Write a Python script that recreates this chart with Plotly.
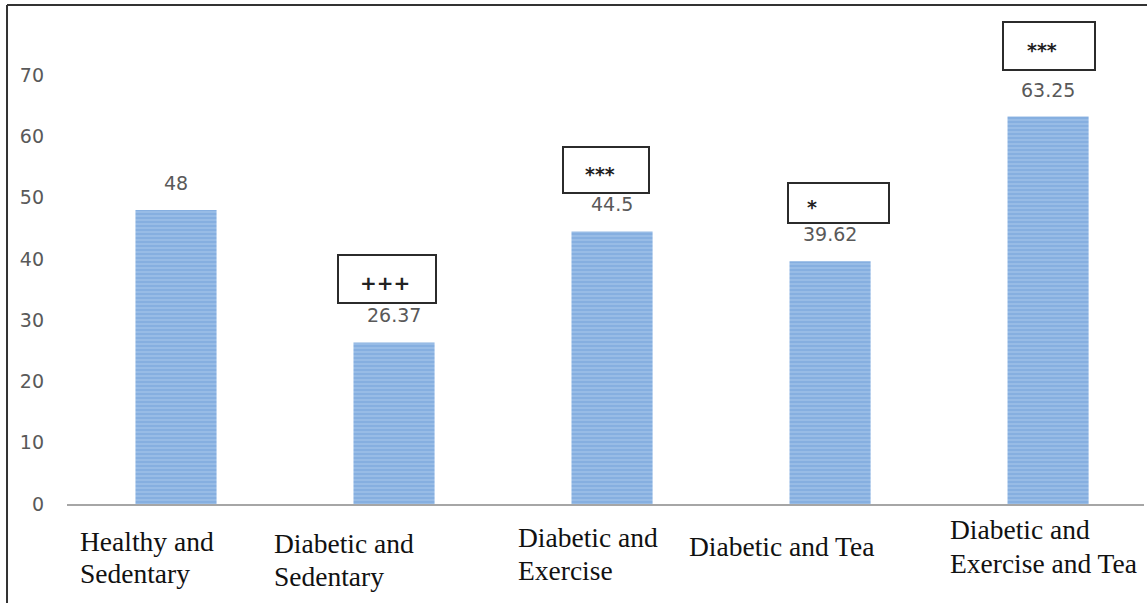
import plotly.graph_objects as go

categories = [["Healthy and", "Sedentary"], ["Diabetic and", "Sedentary"], ["Diabetic and", "Exercise"],
              ["Diabetic and Tea"], ["Diabetic and", "Exercise and Tea"]]
values = [48, 26.37, 44.5, 39.62, 63.25]
value_labels = ["48", "26.37", "44.5", "39.62", "63.25"]
marks = ["", "+++", "***", "*", "***"]
y_ticks = [0, 10, 20, 30, 40, 50, 60, 70]

x = list(range(len(categories)))

fig = go.Figure(go.Bar(
    x=x, y=values,
    marker=dict(color="#8AB3E3",
                pattern=dict(shape="-", fgcolor="#B9D3F0", bgcolor="#86AFE0", size=4, solidity=0.35),
                line=dict(width=0)),
    hoverinfo="skip",
))

ann = []
# value labels
for i, (v, t) in enumerate(zip(values, value_labels)):
    ann.append(dict(x=i, y=v, xref="x", yref="y", text=t, showarrow=False,
                    yanchor="middle", yshift=27,
                    font=dict(family="DejaVu Sans", size=19, color="#595959")))

# category labels (left aligned, individually placed, one annotation per line)
lab_xshift = [-98, -122, -96, -143, -100]
lab_yshift = [[-37, -69], [-39, -72], [-33, -66], [-42], [-25, -59]]
for i, lines in enumerate(categories):
    for j, line in enumerate(lines):
        ann.append(dict(x=i, y=0, xref="x", yref="y", text=line, showarrow=False,
                        xanchor="left", yanchor="middle", align="left",
                        xshift=lab_xshift[i], yshift=lab_yshift[i][j],
                        font=dict(family="Liberation Serif", size=27.5, color="#111111")))

# significance boxes
box_dx = [0, -7, -6, 8, 1]
box_dy = [0, 63, 61, 58, 71]
box_w = [0, 96, 84, 99, 90]
box_h = [0, 46, 44, 38, 46]
txt_dx = [0, -9, -12, -18, -6]
for i, m in enumerate(marks):
    if not m:
        continue
    ann.append(dict(x=i, y=values[i], xref="x", yref="y", text="\u00a0", showarrow=False,
                    xshift=box_dx[i], yshift=box_dy[i], width=box_w[i], height=box_h[i],
                    bordercolor="#2b2b2b", borderwidth=2, borderpad=0, bgcolor="white"))
    is_star = "*" in m
    ann.append(dict(x=i, y=values[i], xref="x", yref="y", text="<b>%s</b>" % m, showarrow=False,
                    xshift=txt_dx[i], yshift=box_dy[i] + (-4 if is_star else -4),
                    font=dict(family="DejaVu Sans", size=20 if not is_star else 19, color="#222222")))

shapes = [
    dict(type="line", xref="paper", yref="paper", x0=-0.0557, x1=1.01, y0=1.0184, y1=1.0184,
         line=dict(color="#333333", width=2)),
    dict(type="line", xref="paper", yref="paper", x0=-0.0557, x1=-0.0557, y0=1.0184, y1=-0.21,
         line=dict(color="#333333", width=2)),
]

fig.update_layout(
    width=1147, height=603,
    margin=dict(l=67, r=3, t=14, b=99),
    paper_bgcolor="white", plot_bgcolor="white",
    showlegend=False,
    bargap=0.628,
    annotations=ann,
    shapes=shapes,
    xaxis=dict(range=[-0.5, 4.44], showticklabels=False, showgrid=False, zeroline=False,
               showline=True, linecolor="#A6A6A6", linewidth=2, ticks=""),
    yaxis=dict(range=[0, 80], tickvals=y_ticks, showgrid=False, zeroline=False, showline=False,
               ticks="", ticklabelstandoff=22,
               tickfont=dict(family="DejaVu Sans", size=19, color="#595959")),
)

fig.write_html("out.html")
